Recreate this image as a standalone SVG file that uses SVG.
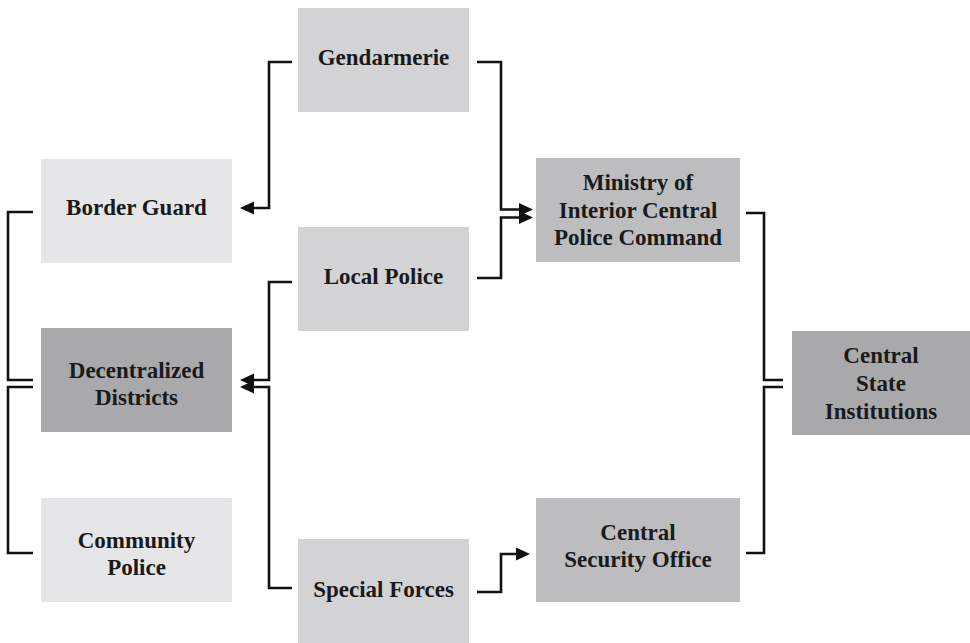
<svg xmlns="http://www.w3.org/2000/svg" width="970" height="643" viewBox="0 0 970 643">
<defs>
<style>
.t{font-family:"Liberation Serif","Times New Roman",serif;font-weight:bold;font-size:23px;fill:#1a1a1a;text-anchor:middle}
.c{fill:none;stroke:#111;stroke-width:2.6}
.l1{fill:#e6e6e8}.l2{fill:#d3d3d5}.l3{fill:#bdbdbf}.l4{fill:#a9a9ab}
</style>
<marker id="ah" viewBox="0 0 14 14" refX="4" refY="7" markerWidth="14" markerHeight="14" markerUnits="userSpaceOnUse" orient="auto">
<path d="M0,0.5 L14,7 L0,13.5 Z" fill="#111"/>
</marker>
</defs>
<rect width="970" height="643" fill="#fff"/>
<g id="connectors">
<path class="c" d="M292,62 H269 V208 H250" marker-end="url(#ah)"/>
<path class="c" d="M477,62 H501 V209.5 H523" marker-end="url(#ah)"/>
<path class="c" d="M477,278 H501 V217.5 H523" marker-end="url(#ah)"/>
<path class="c" d="M292,282 H269 V380 H250" marker-end="url(#ah)"/>
<path class="c" d="M292,588 H269 V387 H250" marker-end="url(#ah)"/>
<path class="c" d="M477,592 H501 V554 H520" marker-end="url(#ah)"/>
<path class="c" d="M33,212 H8 V380 H33"/>
<path class="c" d="M33,387 H8 V553 H33"/>
<path class="c" d="M746,213 H764 V380 H783"/>
<path class="c" d="M746,553 H764 V387 H783"/>
</g>
<g id="gendarmerie"><rect class="l2" x="298" y="8" width="171" height="104"/><text class="t" x="383.5" y="65">Gendarmerie</text></g>
<g id="border-guard"><rect class="l1" x="41" y="159" width="191" height="104"/><text class="t" x="136.5" y="215">Border Guard</text></g>
<g id="local-police"><rect class="l2" x="298" y="227" width="171" height="104"/><text class="t" x="383.5" y="284">Local Police</text></g>
<g id="ministry"><rect class="l3" x="536" y="158" width="204" height="104"/><text class="t" x="638" y="190">Ministry of</text><text class="t" x="638" y="218">Interior Central</text><text class="t" x="638" y="245">Police Command</text></g>
<g id="decentralized-districts"><rect class="l4" x="41" y="328" width="191" height="104"/><text class="t" x="136.5" y="378">Decentralized</text><text class="t" x="136.5" y="405">Districts</text></g>
<g id="central-state-institutions"><rect class="l4" x="792" y="331" width="178" height="104"/><text class="t" x="881" y="363">Central</text><text class="t" x="881" y="391">State</text><text class="t" x="881" y="419">Institutions</text></g>
<g id="community-police"><rect class="l1" x="41" y="498" width="191" height="104"/><text class="t" x="136.5" y="548">Community</text><text class="t" x="136.5" y="575">Police</text></g>
<g id="central-security-office"><rect class="l3" x="536" y="498" width="204" height="104"/><text class="t" x="638" y="540">Central</text><text class="t" x="638" y="567">Security Office</text></g>
<g id="special-forces"><rect class="l2" x="298" y="539" width="171" height="104"/><text class="t" x="383.5" y="597">Special Forces</text></g>
</svg>
